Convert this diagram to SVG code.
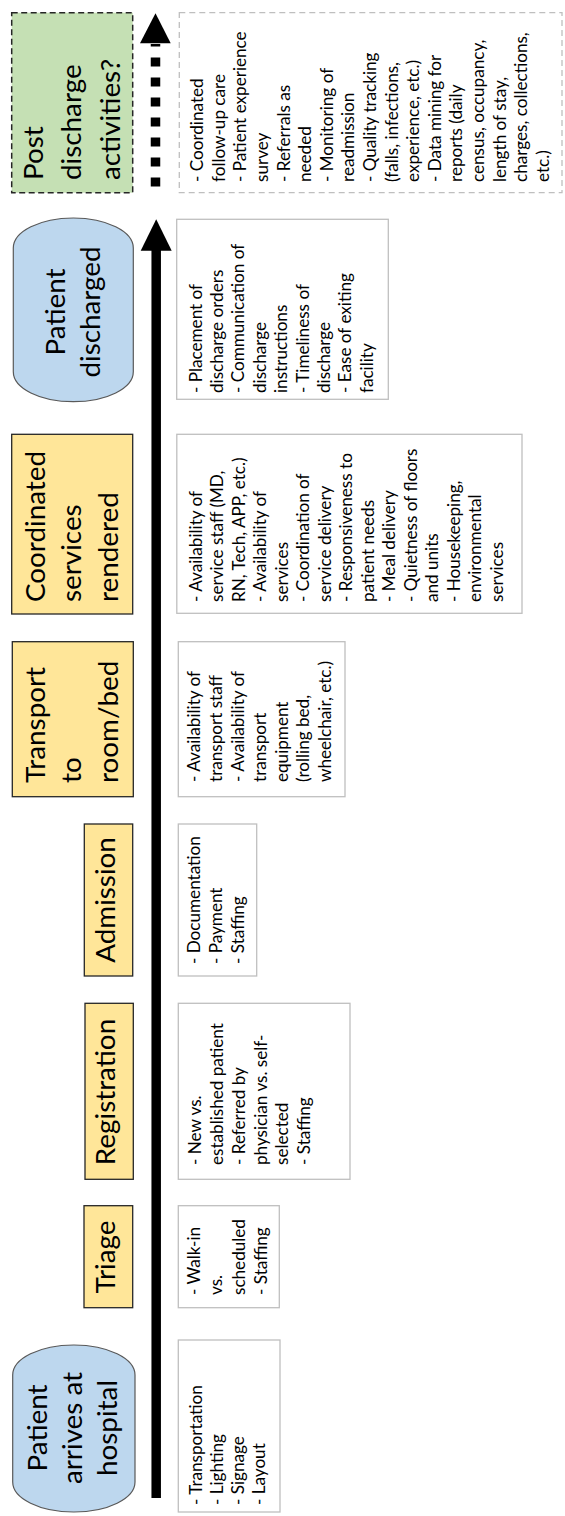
<svg xmlns="http://www.w3.org/2000/svg" width="565" height="1516" viewBox="0 0 565 1516">
<defs>
<style>
.hd{font-family:Lato,"Liberation Sans",sans-serif;font-size:26.5px;fill:#000}
.bd{font-family:Lato,"Liberation Sans",sans-serif;font-size:16.3px;fill:#000}
.yel{fill:#ffe699;stroke:#262626;stroke-width:1.3}
.blu{fill:#bdd7ee;stroke:#595959;stroke-width:1.2}
.grn{fill:#c5e0b4;stroke:#262626;stroke-width:1.5;stroke-dasharray:6 3.5}
.box{fill:#fff;stroke:#bfbfbf;stroke-width:1.3}
.dbox{fill:#fff;stroke:#bfbfbf;stroke-width:1.3;stroke-dasharray:6 4}
</style>
</defs>
<rect width="565" height="1516" fill="#fff"/>

<g id="connectors">
<line x1="156.2" y1="1498" x2="156.2" y2="249" stroke="#000" stroke-width="9.5"/>
<polygon points="140.7,250.7 171.7,250.7 156.2,219.3" fill="#000"/>
<line x1="155.5" y1="186.5" x2="155.5" y2="44" stroke="#000" stroke-width="9.5" stroke-dasharray="9 11"/>
<polygon points="140,43.3 170.7,43.3 155.5,13.3" fill="#000"/>
</g>

<g id="arrives">
<rect class="blu" x="12.7" y="1345" width="122.3" height="167" rx="61" ry="30"/>
<text class="hd" text-anchor="middle" transform="translate(0,1428) scale(1,1.05) rotate(-90)"><tspan x="0" y="47">Patient</tspan><tspan x="0" y="82">arrives at</tspan><tspan x="0" y="117">hospital</tspan></text>
</g>
<g id="arrives-notes">
<rect class="box" x="178.3" y="1340" width="101.7" height="172"/>
<text class="bd" transform="translate(0,1505) scale(1,1.05) rotate(-90)"><tspan x="0" y="202.5">- Transportation</tspan><tspan x="0" y="223.3">- Lighting</tspan><tspan x="0" y="244">- Signage</tspan><tspan x="0" y="265">- Layout</tspan></text>
</g>

<g id="triage">
<rect class="yel" x="84" y="1205.7" width="48.7" height="102"/>
<text class="hd" text-anchor="middle" transform="translate(0,1257) scale(1,1.05) rotate(-90)"><tspan x="0" y="115">Triage</tspan></text>
</g>
<g id="triage-notes">
<rect class="box" x="178.3" y="1205.7" width="101" height="102"/>
<text class="bd" transform="translate(0,1295) scale(1,1.05) rotate(-90)"><tspan x="0" y="200">- Walk-in</tspan><tspan x="0" y="222.5">vs.</tspan><tspan x="0" y="245">scheduled</tspan><tspan x="0" y="267.5">- Staffing</tspan></text>
</g>

<g id="registration">
<rect class="yel" x="85" y="1003.3" width="48.3" height="176"/>
<text class="hd" text-anchor="middle" transform="translate(0,1092) scale(1,1.05) rotate(-90)"><tspan x="0" y="115">Registration</tspan></text>
</g>
<g id="registration-notes">
<rect class="box" x="178.3" y="1003.3" width="171.7" height="176"/>
<text class="bd" transform="translate(0,1165) scale(1,1.05) rotate(-90)"><tspan x="0" y="201.5">- New vs.</tspan><tspan x="0" y="223.2">established patient</tspan><tspan x="0" y="244.9">- Referred by</tspan><tspan x="0" y="266.6">physician vs. self-</tspan><tspan x="0" y="288.3">selected</tspan><tspan x="0" y="310">- Staffing</tspan></text>
</g>

<g id="admission">
<rect class="yel" x="84.3" y="824" width="48.4" height="152"/>
<text class="hd" text-anchor="middle" transform="translate(0,900) scale(1,1.05) rotate(-90)"><tspan x="0" y="115">Admission</tspan></text>
</g>
<g id="admission-notes">
<rect class="box" x="178.3" y="824" width="78.4" height="152"/>
<text class="bd" transform="translate(0,964) scale(1,1.05) rotate(-90)"><tspan x="0" y="200">- Documentation</tspan><tspan x="0" y="222">- Payment</tspan><tspan x="0" y="244">- Staffing</tspan></text>
</g>

<g id="transport">
<rect class="yel" x="12.3" y="641.7" width="121" height="155"/>
<text class="hd" transform="translate(0,783) scale(1,1.05) rotate(-90)"><tspan x="0" y="45">Transport</tspan><tspan x="0" y="81.5">to</tspan><tspan x="0" y="118">room/bed</tspan></text>
</g>
<g id="transport-notes">
<rect class="box" x="178.3" y="641.7" width="166.7" height="155"/>
<text class="bd" transform="translate(0,782) scale(1,1.05) rotate(-90)"><tspan x="0" y="200">- Availability of</tspan><tspan x="0" y="221.9">transport staff</tspan><tspan x="0" y="243.8">- Availability of</tspan><tspan x="0" y="265.7">transport</tspan><tspan x="0" y="287.6">equipment</tspan><tspan x="0" y="309.5">(rolling bed,</tspan><tspan x="0" y="331.4">wheelchair, etc.)</tspan></text>
</g>

<g id="coordinated">
<rect class="yel" x="11.7" y="434.3" width="121" height="179.7"/>
<text class="hd" transform="translate(0,602) scale(1,1.05) rotate(-90)"><tspan x="0" y="45">Coordinated</tspan><tspan x="0" y="81.5">services</tspan><tspan x="0" y="118">rendered</tspan></text>
</g>
<g id="coordinated-notes">
<rect class="box" x="176.8" y="434.3" width="345.2" height="179"/>
<text class="bd" transform="translate(0,602) scale(1,1.05) rotate(-90)"><tspan x="0" y="202">- Availability of</tspan><tspan x="0" y="223.5">service staff (MD,</tspan><tspan x="0" y="245">RN, Tech, APP, etc.)</tspan><tspan x="0" y="266.5">- Availability of</tspan><tspan x="0" y="288">services</tspan><tspan x="0" y="309.5">- Coordination of</tspan><tspan x="0" y="331">service delivery</tspan><tspan x="0" y="352.5">- Responsiveness to</tspan><tspan x="0" y="374">patient needs</tspan><tspan x="0" y="395.5">- Meal delivery</tspan><tspan x="0" y="417">- Quietness of floors</tspan><tspan x="0" y="438.5">and units</tspan><tspan x="0" y="460">- Housekeeping,</tspan><tspan x="0" y="481.5">environmental</tspan><tspan x="0" y="503">services</tspan></text>
</g>

<g id="discharged">
<rect class="blu" x="13.3" y="218" width="120" height="183.7" rx="60" ry="30"/>
<text class="hd" text-anchor="middle" transform="translate(0,312) scale(1,1.05) rotate(-90)"><tspan x="0" y="65.5">Patient</tspan><tspan x="0" y="100.5">discharged</tspan></text>
</g>
<g id="discharged-notes">
<rect class="box" x="176.7" y="219.3" width="211.6" height="180"/>
<text class="bd" transform="translate(0,393) scale(1,1.05) rotate(-90)"><tspan x="0" y="201.7">- Placement of</tspan><tspan x="0" y="223.1">discharge orders</tspan><tspan x="0" y="244.5">- Communication of</tspan><tspan x="0" y="265.9">discharge</tspan><tspan x="0" y="287.3">instructions</tspan><tspan x="0" y="308.7">- Timeliness of</tspan><tspan x="0" y="330.1">discharge</tspan><tspan x="0" y="351.5">- Ease of exiting</tspan><tspan x="0" y="372.9">facility</tspan></text>
</g>

<g id="post-discharge">
<rect class="grn" x="11.7" y="12.7" width="121" height="180"/>
<text class="hd" transform="translate(0,180) scale(1,1.05) rotate(-90)"><tspan x="0" y="43">Post</tspan><tspan x="0" y="81.5">discharge</tspan><tspan x="0" y="120">activities?</tspan></text>
</g>
<g id="post-discharge-notes">
<rect class="dbox" x="179.3" y="12.7" width="382.7" height="180"/>
<text class="bd" transform="translate(0,182) scale(1,1.05) rotate(-90)"><tspan x="0" y="203.3">- Coordinated</tspan><tspan x="0" y="224.9">follow-up care</tspan><tspan x="0" y="246.5">- Patient experience</tspan><tspan x="0" y="268.1">survey</tspan><tspan x="0" y="289.7">- Referrals as</tspan><tspan x="0" y="311.3">needed</tspan><tspan x="0" y="332.9">- Monitoring of</tspan><tspan x="0" y="354.5">readmission</tspan><tspan x="0" y="376.1">- Quality tracking</tspan><tspan x="0" y="397.7">(falls, infections,</tspan><tspan x="0" y="419.3">experience, etc.)</tspan><tspan x="0" y="440.9">- Data mining for</tspan><tspan x="0" y="462.5">reports (daily</tspan><tspan x="0" y="484.1">census, occupancy,</tspan><tspan x="0" y="505.7">length of stay,</tspan><tspan x="0" y="527.3">charges, collections,</tspan><tspan x="0" y="548.9">etc.)</tspan></text>
</g>
</svg>
